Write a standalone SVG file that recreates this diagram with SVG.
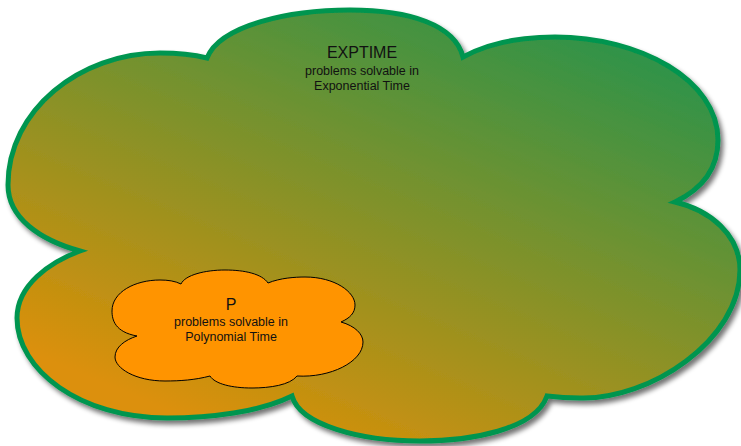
<svg xmlns="http://www.w3.org/2000/svg" width="741" height="446" viewBox="0 0 741 446">
  <defs>
    <linearGradient id="bigGrad" gradientUnits="userSpaceOnUse" x1="60" y1="365" x2="260" y2="-110">
      <stop offset="0" stop-color="#dc9008"/>
      <stop offset="1" stop-color="#2e9349"/>
    </linearGradient>
    <filter id="shadow" x="-5%" y="-5%" width="115%" height="115%">
      <feGaussianBlur in="SourceAlpha" stdDeviation="2.5"/>
      <feOffset dx="3" dy="4" result="b"/>
      <feComponentTransfer><feFuncA type="linear" slope="0.55"/></feComponentTransfer>
      <feMerge><feMergeNode/><feMergeNode in="SourceGraphic"/></feMerge>
    </filter>
  </defs>
  <style>
    .title { font-family: "Liberation Sans", Arial, sans-serif; font-size: 16px; fill: #111; text-anchor: middle; }
    .sub { font-family: "Liberation Sans", Arial, sans-serif; font-size: 12.5px; fill: #111; text-anchor: middle; }
  </style>
  <g id="exptime">
    <path filter="url(#shadow)" fill="url(#bigGrad)" stroke="#009550" stroke-width="5" stroke-linejoin="miter"
      d="M80,251 C40,240 8,218 8,185 C8,110 80,53 160,53 C178,53 195,55 207,58
         C220,25 290,10 350,10 C410,10 455,25 463,57
         C490,42 520,37 555,37 C640,37 718,80 718,140 C718,170 700,190 675,202
         C710,210 740,235 740,270 C740,340 650,400 580,398 C565,398 555,397 547,396
         C535,430 470,441 420,441 C360,441 300,425 292,396
         C260,412 210,418 167,418 C80,418 17,370 17,318 C17,285 50,262 80,251 Z"/>
    <text class="title" x="362" y="58">EXPTIME</text>
    <text class="sub" x="362" y="75">problems solvable in</text>
    <text class="sub" x="362" y="90">Exponential Time</text>
  </g>
  <g id="p">
    <path fill="#ff9400" stroke="#000" stroke-width="1"
      d="M137,336 C115,332 112,320 112,311 C112,292 135,280 160,280 C168,280 175,281 181,284
         C185,275 205,270 225,270 C245,270 262,274 268,283
         C280,278 295,277 305,277 C335,277 355,292 355,305 C355,313 350,318 341,322
         C355,326 363,334 363,342 C363,362 330,378 297,376
         C290,385 270,388 252,388 C232,388 215,384 210,376
         C195,380 180,381 165,381 C135,381 115,368 115,357 C115,347 125,340 137,336 Z"/>
    <text class="title" x="231" y="310">P</text>
    <text class="sub" x="231" y="326">problems solvable in</text>
    <text class="sub" x="231" y="341">Polynomial Time</text>
  </g>
</svg>
